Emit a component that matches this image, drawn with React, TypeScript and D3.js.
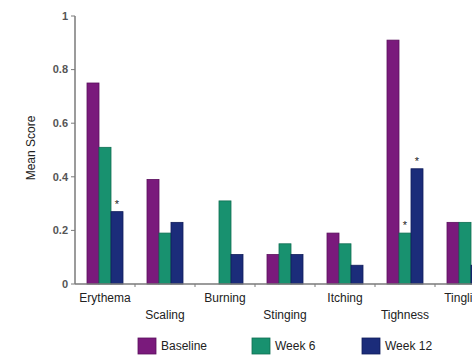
import React from "react";
import * as d3 from "d3";

const categories = ["Erythema", "Scaling", "Burning", "Stinging", "Itching", "Tighness", "Tingling"];
const seriesNames = ["Baseline", "Week 6", "Week 12"];
const baseline = [0.75, 0.39, 0, 0.11, 0.19, 0.91, 0.23];
const week6 = [0.51, 0.19, 0.31, 0.15, 0.15, 0.19, 0.23];
const week12 = [0.27, 0.23, 0.11, 0.11, 0.07, 0.43, 0.07];
// asterisk markers: [category index, series index]
const significant: [number, number][] = [[0, 2], [5, 1], [5, 2]];
const yTicks = [0, 0.2, 0.4, 0.6, 0.8, 1];
const yTickLabels = ["0", "0.2", "0.4", "0.6", "0.8", "1"];

const colors = ["#7a1a7c", "#18916f", "#1b2c7a"];
const strokes = ["#5a0f5c", "#0f6e52", "#111d5a"];

export default function App() {
  const width = 472;
  const height = 355;
  const left = 75;
  const bandW = 60;
  const x = d3
    .scaleBand<string>()
    .domain(categories)
    .range([left, left + bandW * categories.length])
    .paddingInner(0.4)
    .paddingOuter(0.2);
  const step = x.step();
  const y = d3.scaleLinear().domain([0, 1]).range([284, 16]);
  const sub = d3.scaleBand<number>().domain([0, 1, 2]).range([0, x.bandwidth()]);
  const series = [baseline, week6, week12];
  const axisColor = "#7a7a7a";
  const font = "Liberation Sans, Arial, Helvetica, sans-serif";

  return (
    <svg width={width} height={height} style={{ position: "absolute", left: 0, top: 0, background: "#fff" }}>
      <g fontFamily={font}>
        {/* bars */}
        {categories.map((c, ci) =>
          series.map((s, si) => {
            const v = s[ci];
            const bx = (x(c) as number) + (sub(si) as number);
            const by = y(v);
            const h = y(0) - by;
            return (
              <rect
                key={c + si}
                x={bx}
                y={by}
                width={sub.bandwidth()}
                height={Math.max(h, 0)}
                fill={colors[si]}
                stroke={strokes[si]}
                strokeWidth={0.8}
              />
            );
          })
        )}
        {/* significance markers */}
        {significant.map(([ci, si]) => (
          <text
            key={`sig${ci}-${si}`}
            x={(x(categories[ci]) as number) + (sub(si) as number) + sub.bandwidth() / 2}
            y={y(series[si][ci]) - 4}
            textAnchor="middle"
            fontSize={11}
            fill="#222"
          >
            *
          </text>
        ))}
        {/* y axis */}
        <line x1={left} x2={left} y1={y(1)} y2={y(0)} stroke={axisColor} strokeWidth={1.5} />
        {yTicks.map((t, i) => (
          <g key={t}>
            <line x1={left - 4} x2={left} y1={y(t)} y2={y(t)} stroke={axisColor} strokeWidth={1} />
            <text
              x={left - 7}
              y={y(t)}
              dy="0.35em"
              textAnchor="end"
              fontSize={11}
              fontWeight="bold"
              fill="#555"
            >
              {yTickLabels[i]}
            </text>
          </g>
        ))}
        {/* x axis */}
        <line x1={left} x2={width} y1={y(0)} y2={y(0)} stroke={axisColor} strokeWidth={1.5} />
        {categories.map((c, ci) => (
          <line
            key={"xt" + c}
            x1={left + step * (ci + 1)}
            x2={left + step * (ci + 1)}
            y1={y(0)}
            y2={y(0) + 3}
            stroke={axisColor}
            strokeWidth={1}
          />
        ))}
        {categories.map((c, ci) => (
          <text
            key={"xl" + c}
            x={(x(c) as number) + x.bandwidth() / 2}
            y={ci % 2 === 0 ? 302 : 319}
            textAnchor="middle"
            fontSize={12}
            fill="#222"
          >
            {c}
          </text>
        ))}
        {/* y title */}
        <text
          transform={`translate(35,148) rotate(-90)`}
          textAnchor="middle"
          fontSize={12}
          fill="#222"
        >
          Mean Score
        </text>
        {/* legend */}
        {seriesNames.map((n, i) => {
          const lx = [138, 252, 362][i];
          return (
            <g key={n}>
              <rect x={lx} y={338} width={18} height={16} fill={colors[i]} stroke={strokes[i]} strokeWidth={0.8} />
              <text x={lx + 23} y={350} fontSize={12} fill="#222">
                {n}
              </text>
            </g>
          );
        })}
      </g>
    </svg>
  );
}
